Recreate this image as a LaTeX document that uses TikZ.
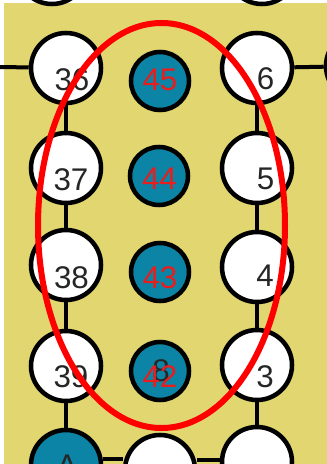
\documentclass[tikz,border=0pt]{standalone}
\usepackage{fontspec}
\setmainfont{Liberation Sans}
\definecolor{bgyellow}{RGB}{225,214,111}
\definecolor{nodeblue}{RGB}{11,132,165}
\definecolor{txtred}{RGB}{232,30,30}
\definecolor{ellred}{RGB}{255,0,0}
\tikzset{
  wc/.style={circle,draw=black,fill=white,line width=3.4pt,minimum size=52.5pt,inner sep=0pt},
  bc/.style={circle,draw=black,fill=nodeblue,line width=3.4pt,minimum size=43.5pt,inner sep=0pt},
  conn/.style={draw=black,line width=3pt},
  numtxt/.style={inner sep=0pt,font=\fontsize{23.5}{28}\selectfont,text=black!85},
  redtxt/.style={inner sep=0pt,font=\fontsize{23.5}{28}\selectfont,text=txtred},
  ring/.style={draw=ellred,line width=4.5pt}
}
\begin{document}
\begin{tikzpicture}[x=0.75pt,y=-0.75pt]
\useasboundingbox (0,0) rectangle (327,464);
\clip (0,0) rectangle (327,464);
\fill[white] (0,0) rectangle (327,464);
\fill[bgyellow] (4,3) rectangle (327,464);
% nodes
\node[wc] (tl) at (52,-31) {};
\node[wc] (tr) at (262,-31) {};
\node[wc] (n36) at (66,68) {};
\node[wc] (n37) at (66,168) {};
\node[wc] (n38) at (66,265) {};
\node[wc] (n39) at (66,366) {};
\node[bc,minimum size=52.5pt] (nA) at (66,465) {};
\node[wc] (nbm) at (160,470) {};
\node[wc] (n6) at (257,68) {};
\node[wc] (n5) at (257,168) {};
\node[wc] (n4) at (257,267) {};
\node[wc] (n3) at (257,365) {};
\node[wc] (nbr) at (257,462) {};
\node[wc] (nR) at (361,66) {};
\coordinate (lstub) at (0,67);
\node[bc] (n45) at (160,81) {};
\node[bc] (n44) at (159,176) {};
\node[bc] (n43) at (160,272) {};
\node[bc] (n42) at (160,371) {};
% connectors
\begin{scope}[on background layer/.style={}]
\end{scope}
\draw[conn] (lstub) -- (n36);
\draw[conn] (n6) -- (nR);
\draw[conn] (n36) -- (n37);
\draw[conn] (n37) -- (n38);
\draw[conn] (n38) -- (n39);
\draw[conn] (n39) -- (nA);
\draw[conn] (n6) -- (n5);
\draw[conn] (n5) -- (n4);
\draw[conn] (n4) -- (n3);
\draw[conn] (n3) -- (nbr);
\draw[conn] (nA.east |- 0,459) -- (nbm.west |- 0,459);
\draw[conn] (nbm.east |- 0,460) -- (nbr.west |- 0,460);
% labels
\node[numtxt] (t36) at (72,79.5) {36};
\node[numtxt] (t37) at (71,179.5) {37};
\node[numtxt] (t38) at (71.5,277.5) {38};
\node[numtxt] (t39) at (71,376.5) {39};
\node[numtxt] (t6) at (265.5,79) {6};
\node[numtxt] (t5) at (265.5,179) {5};
\node[numtxt] (t4) at (265,276) {4};
\node[numtxt] (t3) at (265,377) {3};
\node[numtxt] (t8) at (161,371) {8};
\node[numtxt] (tA) at (67,466) {A};
\node[redtxt] (t45) at (160,79.5) {45};
\node[redtxt] (t44) at (159.5,179) {44};
\node[redtxt] (t43) at (160,278) {43};
\node[redtxt] (t42) at (160,376.5) {42};
% red ring
\draw[ring] (161.5,225.5) ellipse [x radius=123.5, y radius=202.5];
\end{tikzpicture}
\end{document}
